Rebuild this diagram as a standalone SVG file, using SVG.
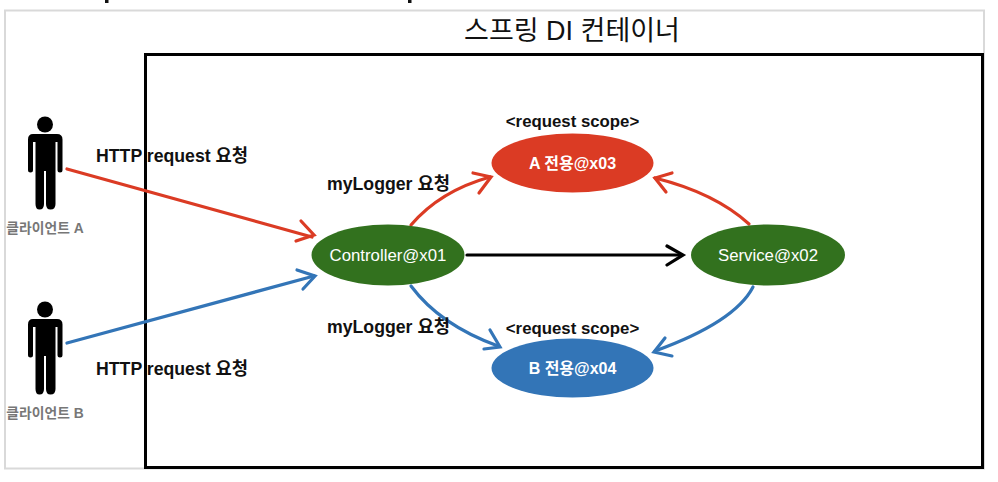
<svg xmlns="http://www.w3.org/2000/svg" width="998" height="482" viewBox="0 0 998 482">
<style>
text{font-family:"Liberation Sans","Noto Sans CJK KR",sans-serif}
.b{font-size:17.7px;font-weight:700;fill:#111}
.s{font-size:16.800px;font-weight:700;fill:#111;text-anchor:middle}
.w{font-size:16.800px;fill:#fff;text-anchor:middle}
.wb{font-size:16px;font-weight:700;fill:#fff;text-anchor:middle}
.g{font-size:13.800px;font-weight:700;fill:#777;text-anchor:middle}
.l{fill:none;stroke-width:3.200;stroke-linecap:round}
.h{fill:none;stroke-width:3.200;stroke-linecap:round;stroke-linejoin:miter}
.red{stroke:#db3b24}.blue{stroke:#3375b7}.blk{stroke:#000}
</style>
<defs>
<g id="person" fill="#000">
<circle cx="45" cy="124.500" r="8"/>
<path d="M33 134H57Q62.500 134 62.500 139.500V170Q62.500 172.500 60 172.500Q57.500 172.500 57.500 170V142H55.500V204Q55.500 209.500 50.500 209.500Q46 209.500 46 204V171H44V204Q44 209.500 39.500 209.500Q35.500 209.500 35.500 204V142H33V170Q33 172.500 30.500 172.500Q28 172.500 28 170V139.500Q28 134 33 134Z"/>
</g>
</defs>
<rect width="998" height="482" fill="#fff"/>
<rect x="105" y="0" width="3.500" height="3" fill="#111"/>
<rect x="408" y="0" width="3.500" height="3" fill="#111"/>
<rect x="5" y="10.500" width="979" height="458" fill="#fff" stroke="#d9d9d9" stroke-width="2"/>
<rect x="145.500" y="54.500" width="837" height="413" fill="#fff" stroke="#000" stroke-width="3"/>
<text x="572" y="40" font-size="27" fill="#111" text-anchor="middle">스프링 DI 컨테이너</text>
<g id="connectors">
<path class="l red" d="M67 169L312 237"/><path class="h red" d="M301 221L314 235L296 241"/>
<path class="l blue" d="M67 343L314 276"/><path class="h blue" d="M297 270L315 276L303 289"/>
<path class="l red" d="M411 225Q440 191 490 177"/><path class="h red" d="M473 173L491 177L479 193"/>
<path class="l blue" d="M411 286Q440 325 498 346"/><path class="h blue" d="M490 330L500 347L484 349"/>
<path class="l blk" d="M467 255H682"/><path class="h blk" d="M667 246L683 255L667 265"/>
<path class="l red" d="M749 224Q715 193 655 178"/><path class="h red" d="M672 173L655 178L666 192"/>
<path class="l blue" d="M753 287Q735 322 655 351"/><path class="h blue" d="M665 338L654 352L672 356"/>
</g>
<g id="client-a"><use href="#person"/><text class="g" x="45" y="233">클라이언트 A</text></g>
<g id="client-b"><use href="#person" y="185"/><text class="g" x="45" y="418">클라이언트 B</text></g>
<g id="controller"><ellipse cx="388" cy="255" rx="76.500" ry="30.500" fill="#32711e"/><text class="w" x="388" y="261">Controller@x01</text></g>
<g id="service"><ellipse cx="768" cy="255" rx="77" ry="30.500" fill="#32711e"/><text class="w" x="768" y="261">Service@x02</text></g>
<g id="bean-a"><text class="s" x="572.500" y="127">&lt;request scope&gt;</text><ellipse cx="572.500" cy="163" rx="81" ry="29.500" fill="#db3b24"/><text class="wb" x="572.500" y="169">A 전용@x03</text></g>
<g id="bean-b"><text class="s" x="572.500" y="333.500">&lt;request scope&gt;</text><ellipse cx="572.500" cy="368" rx="81" ry="29.500" fill="#3375b7"/><text class="wb" x="572.500" y="374">B 전용@x04</text></g>
<text class="b" x="96" y="162">HTTP request 요청</text>
<text class="b" x="96" y="375">HTTP request 요청</text>
<text class="b" x="327" y="190">myLogger 요청</text>
<text class="b" x="327" y="333">myLogger 요청</text>
</svg>
